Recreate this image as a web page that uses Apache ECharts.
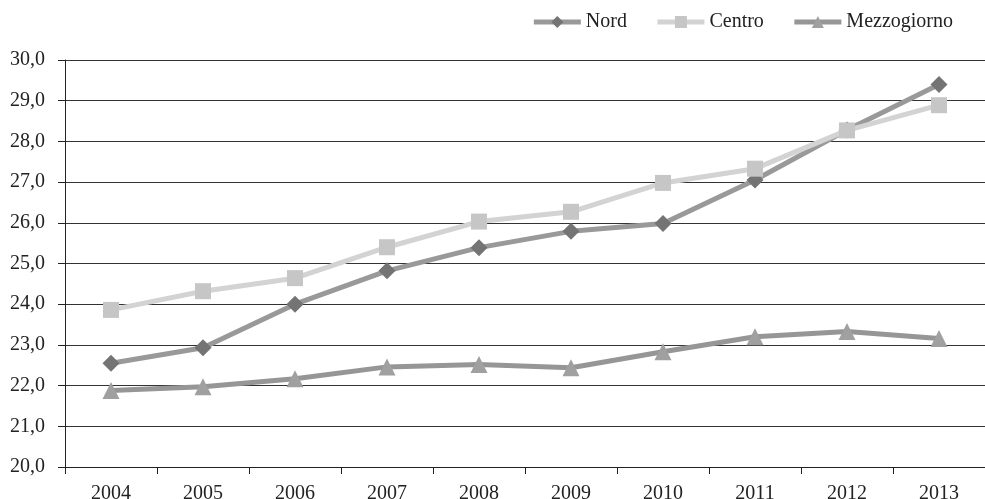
<!DOCTYPE html>
<html>
<head>
<meta charset="utf-8">
<script src="https://cdn.jsdelivr.net/npm/echarts@6/dist/echarts.min.js"></script>
<style>
  html, body { margin: 0; padding: 0; background: #fff; }
  #chart { width: 985px; height: 499px; }
</style>
</head>
<body>
<div id="chart"></div>
<script>
// Years on the category axis
const years = ['2004', '2005', '2006', '2007', '2008', '2009', '2010', '2011', '2012', '2013'];

// Values per macro-area
const nord        = [22.55, 22.93, 24.0, 24.82, 25.39, 25.79, 25.98, 27.05, 28.28, 29.4];
const centro      = [23.86, 24.32, 24.64, 25.4, 26.03, 26.27, 26.98, 27.33, 28.27, 28.89];
const mezzogiorno = [21.88, 21.97, 22.17, 22.46, 22.52, 22.44, 22.83, 23.2, 23.33, 23.16];

const serif = '"Liberation Serif", "DejaVu Serif", serif';

const chart = echarts.init(document.getElementById('chart'), null, { renderer: 'canvas' });

chart.setOption({
  animation: false,
  backgroundColor: '#ffffff',
  textStyle: { fontFamily: serif },
  legend: {
    top: 7,
    right: 27,
    itemWidth: 47,
    itemHeight: 15,
    itemGap: 28,
    lineStyle: { width: 5 },
    textStyle: { fontFamily: serif, fontSize: 20, color: '#222' },
    data: ['Nord', 'Centro', 'Mezzogiorno']
  },
  grid: {
    left: 65, right: 0, top: 60, bottom: 32,
    containLabel: false,
    outerBoundsMode: 'none'
  },
  xAxis: {
    type: 'category',
    data: years,
    boundaryGap: true,
    axisLine: { lineStyle: { color: '#222', width: 1 } },
    axisTick: { show: true, length: 7, lineStyle: { color: '#222' } },
    axisLabel: { fontFamily: serif, fontSize: 20, color: '#222', margin: 17 },
    splitLine: { show: false }
  },
  yAxis: {
    type: 'value',
    min: 20,
    max: 30,
    interval: 1,
    axisLine: { show: true, lineStyle: { color: '#222', width: 1 } },
    axisTick: { show: true, length: 7, lineStyle: { color: '#222' } },
    axisLabel: {
      fontFamily: serif, fontSize: 20, color: '#222', margin: 20,
      formatter: v => v.toFixed(1).replace('.', ',')
    },
    splitLine: { show: true, lineStyle: { color: '#333', width: 1 } }
  },
  series: [
    {
      name: 'Nord',
      type: 'line',
      data: nord,
      symbol: 'diamond',
      symbolSize: 17,
      lineStyle: { color: '#999999', width: 5 },
      itemStyle: { color: '#747474' },
      z: 2
    },
    {
      name: 'Centro',
      type: 'line',
      data: centro,
      symbol: 'rect',
      symbolSize: 16,
      lineStyle: { color: '#d3d3d3', width: 5 },
      itemStyle: { color: '#c6c6c6' },
      z: 3
    },
    {
      name: 'Mezzogiorno',
      type: 'line',
      data: mezzogiorno,
      symbol: 'triangle',
      symbolSize: 17,
      lineStyle: { color: '#969696', width: 5 },
      itemStyle: { color: '#a0a0a0' },
      z: 2
    }
  ]
});
</script>
</body>
</html>
